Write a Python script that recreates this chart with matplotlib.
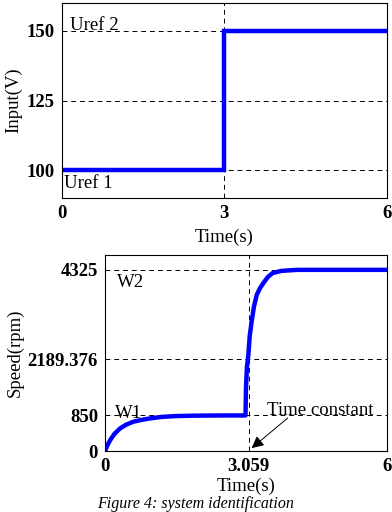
import matplotlib.pyplot as plt

plt.rcParams['font.family'] = ['Liberation Serif', 'DejaVu Serif']

# DATA - input step
input_t = [0, 3.0, 3.0, 6]
input_v = [100, 100, 150, 150]
input_ticks_y = [100, 125, 150]
input_ticks_x = [0, 3, 6]

# DATA - speed response
speed_t = [0, 0.05, 0.11, 0.2, 0.32, 0.45, 0.6, 0.78, 0.96, 1.2, 1.5, 1.9, 2.5, 2.99,
           3.0, 3.02, 3.05, 3.08, 3.12, 3.17, 3.23, 3.3, 3.37, 3.47, 3.57, 3.75, 4.08, 5.0, 6]
speed_v = [0, 140, 263, 410, 542, 630, 700, 745, 780, 815, 835, 845, 850, 850,
           1500, 2000, 2290, 2750, 3090, 3450, 3730, 3890, 4010, 4160, 4250, 4300, 4325, 4325, 4325]
speed_ticks_y = [0, 850, 2189.376, 4325]
speed_ticks_x = [0, 3.059, 6]

blue = '#0000ff'
tick_font = dict(fontsize=13.5, fontweight='bold')
label_size = 13.5
note_size = 13.5

fig = plt.figure(figsize=(3.92, 5.12), dpi=100)

# TOP: input voltage
ax1 = fig.add_axes([0.158, 0.613, 0.829, 0.381])
ax1.plot(input_t, input_v, color=blue, lw=3.2, solid_joinstyle='miter')
ax1.set_xlim(0, 6)
ax1.set_ylim(90, 160)
for y in input_ticks_y:
    ax1.axhline(y, color='black', ls=(0, (5, 4)), lw=0.7, zorder=0)
ax1.axvline(3, color='black', ls=(0, (5, 4)), lw=0.7, zorder=0)
ax1.set_xticks(input_ticks_x)
ax1.set_yticks(input_ticks_y)
ax1.set_xticklabels([str(v) for v in input_ticks_x], **tick_font)
ax1.set_yticklabels([str(v) for v in input_ticks_y], **tick_font)
ax1.tick_params(length=0, pad=5)
ax1.set_xlabel('Time(s)', fontsize=label_size, labelpad=5)
ax1.set_ylabel('Input(V)', fontsize=label_size, labelpad=3)
ax1.text(0.15, 152.0, 'Uref 2', fontsize=note_size, va='center')
ax1.text(0.04, 95.4, 'Uref 1', fontsize=note_size, va='center')

# BOTTOM: speed
ax2 = fig.add_axes([0.268, 0.119, 0.719, 0.383])
ax2.plot(speed_t, speed_v, color=blue, lw=3.2)
ax2.set_xlim(0, 6)
ax2.set_ylim(0, 4680)
for y in speed_ticks_y[1:]:
    ax2.axhline(y, color='black', ls=(0, (5, 4)), lw=0.7, zorder=0)
ax2.axvline(3.059, color='black', ls=(0, (5, 4)), lw=0.7, zorder=0)
ax2.set_xticks(speed_ticks_x)
ax2.set_yticks(speed_ticks_y)
ax2.set_xticklabels(['0', '3.059', '6'], **tick_font)
ax2.set_yticklabels(['0', '850', '2189.376', '4325'], **tick_font)
ax2.tick_params(length=0, pad=5)
ax2.set_xlabel('Time(s)', fontsize=label_size, labelpad=2)
ax2.set_ylabel('Speed(rpm)', fontsize=label_size, labelpad=3)
ax2.text(0.26, 4014, 'W2', fontsize=note_size, va='center')
ax2.text(0.21, 890, 'W1', fontsize=note_size, va='center')
ax2.text(3.45, 960, 'Time constant', fontsize=note_size, va='center')
ax2.annotate('', xy=(3.12, 70), xytext=(3.89, 790),
             arrowprops=dict(arrowstyle='-|>', color='black', lw=0.7,
                             mutation_scale=18, shrinkA=0, shrinkB=0))

fig.text(0.5, 0.0, 'Figure 4: system identification', fontsize=11.5,
         style='italic', ha='center', va='bottom')

fig.savefig('out.png', dpi=100)
